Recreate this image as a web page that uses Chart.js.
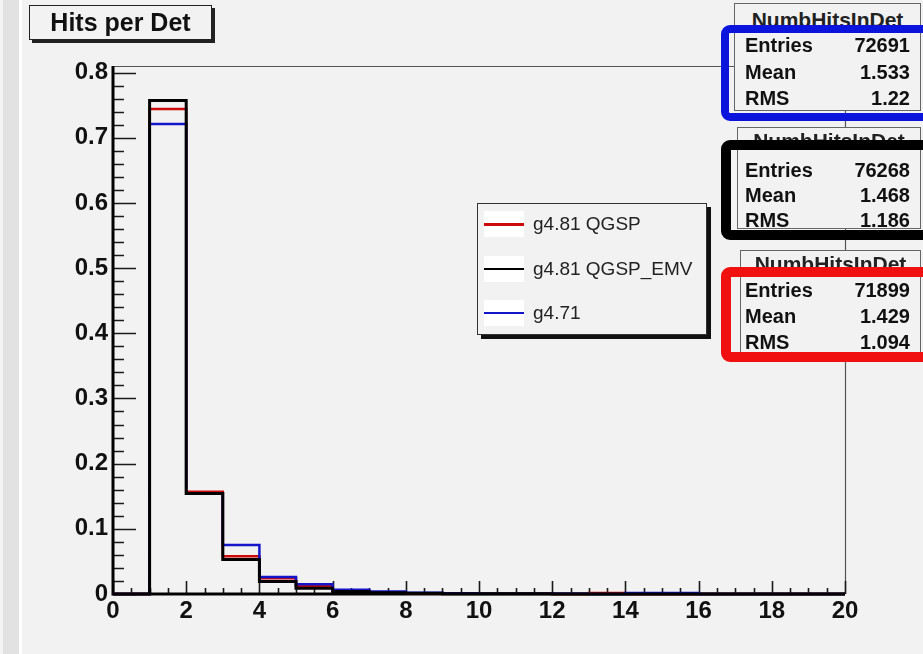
<!DOCTYPE html>
<html>
<head>
<meta charset="utf-8">
<title>Hits per Det</title>
<script src="https://cdn.jsdelivr.net/npm/chart.js@4.4.1/dist/chart.umd.min.js"></script>
<style>
  body { margin: 0; background: #f2f2f2; }
  #wrap {
    position: relative; width: 923px; height: 654px; overflow: hidden;
    background: linear-gradient(to right, #f4f4f4 0 3px, #e2e2e2 3px 19px, #fff 19px 22px, #f2f2f2 22px);
    font-family: "Liberation Sans", Arial, sans-serif; color: #111;
  }
  #c { position: absolute; left: 0; top: 0; }
  .title {
    position: absolute; left: 29px; top: 5px; width: 181px; height: 33px;
    border: 1.5px solid #222; box-shadow: 3px 3px 0 #222; background: #f2f2f2;
    font-weight: bold; font-size: 25px; line-height: 33px; text-align: center;
  }
  .legend {
    position: absolute; left: 477px; top: 203px; width: 228px; height: 130px;
    border: 1px solid #333; box-shadow: 4px 4px 0 #111; background: #f2f2f2;
  }
  .legend .row { position: absolute; left: 0; height: 30px; width: 100%; }
  .legend .sw { position: absolute; left: 6px; top: 2px; width: 40px; height: 26px; background: #fff; }
  .legend .sw i { position: absolute; left: 0; right: 0; top: 12px; display: block; }
  .legend .lab { position: absolute; left: 55px; top: 0; font-size: 19px; line-height: 30px; color: #222; }
  .frame {
    position: absolute; border: 1px solid #666; background: #f2f2f2; box-sizing: border-box;
    font-weight: bold; font-size: 21px; line-height: 20px; text-align: center; overflow: hidden; color: #222;
  }
  .ring { position: absolute; left: 721px; width: 200px; border-style: solid; border-radius: 9px; }
  .st { position: absolute; font-weight: bold; font-size: 20px; line-height: 24px; }
  .st.k { left: 745px; }
  .st.v { right: 13px; text-align: right; }
</style>
</head>
<body>
<div id="wrap">
  <canvas id="c" width="923" height="654"></canvas>
  <div class="title">Hits per Det</div>
  <div class="legend" id="legend"></div>
  <div id="stats"></div>
</div>
<script>
// ===== DATA =====
const binLow = [0, 1, 2, 3, 4, 5, 6, 7, 8, 9, 10, 11, 12, 13, 14, 15, 16, 17, 18, 19];
const xMax = 20;
const xTickValues = [0, 2, 4, 6, 8, 10, 12, 14, 16, 18, 20];
const xTickLabels = ['0', '2', '4', '6', '8', '10', '12', '14', '16', '18', '20'];
const yTickValues = [0, 0.1, 0.2, 0.3, 0.4, 0.5, 0.6, 0.7, 0.8];
const yTickLabels = ['0', '0.1', '0.2', '0.3', '0.4', '0.5', '0.6', '0.7', '0.8'];

const seriesNames = ['g4.81 QGSP', 'g4.81 QGSP_EMV', 'g4.71'];
const qgsp    = [0, 0.744, 0.157, 0.058, 0.024, 0.012, 0.005, 0.002, 0.001, 0.0005, 0.0003, 0.0002, 0.0001, 0.0015, 0, 0, 0, 0, 0, 0];
const qgspEmv = [0, 0.757, 0.154, 0.053, 0.019, 0.009, 0.004, 0.002, 0.001, 0.0005, 0.0003, 0.0002, 0.0001, 0, 0, 0, 0, 0, 0, 0];
const g471    = [0, 0.721, 0.154, 0.075, 0.026, 0.015, 0.0066, 0.004, 0.002, 0.001, 0.0005, 0.0003, 0.0002, 0.0001, 0.0015, 0.0015, 0, 0, 0, 0];

// stats boxes, top to bottom (blue = g4.71, black = QGSP_EMV, red = QGSP)
const statTitle = 'NumbHitsInDet';
const statEntries = ['72691', '76268', '71899'];
const statMean = ['1.533', '1.468', '1.429'];
const statRms = ['1.22', '1.186', '1.094'];

// ===== STYLE =====
const colRed = '#cc0a0a', colBlack = '#000000', colBlue = '#1414c8';

function histPoints(vals) {
  const pts = binLow.map((x, i) => ({ x: x, y: vals[i] }));
  pts.push({ x: xMax, y: vals[vals.length - 1] });
  return pts;
}

// ROOT-like frame: axis lines under the histograms, ticks pointing inwards
const rootAxes = {
  id: 'rootAxes',
  beforeDatasetsDraw(chart) {
    const { ctx, chartArea: a, scales: { x, y } } = chart;
    ctx.save();
    ctx.strokeStyle = '#555'; ctx.lineWidth = 1.2;
    ctx.beginPath();
    ctx.moveTo(a.left, a.top + 0.5);
    ctx.lineTo(a.right + 0.5, a.top + 0.5);
    ctx.lineTo(a.right + 0.5, a.bottom);
    ctx.stroke();

    ctx.strokeStyle = '#1a1a1a'; ctx.lineWidth = 1.6;
    ctx.beginPath();
    for (let i = 0; i <= 40; i++) {
      const px = Math.round(x.getPixelForValue(i * 0.5)) + 0.5;
      const len = i % 4 === 0 ? 13 : 6;
      ctx.moveTo(px, a.bottom); ctx.lineTo(px, a.bottom - len);
    }
    for (let i = 0; i <= 40; i++) {
      const v = i * 0.02;
      if (v > y.max) break;
      const py = Math.round(y.getPixelForValue(v)) + 0.5;
      const len = i % 5 === 0 ? 23 : 11;
      ctx.moveTo(a.left, py); ctx.lineTo(a.left + len, py);
    }
    ctx.stroke();

    ctx.strokeStyle = '#000'; ctx.lineWidth = 3;
    ctx.beginPath();
    ctx.moveTo(a.left, a.top); ctx.lineTo(a.left, a.bottom);
    ctx.lineTo(a.right, a.bottom);
    ctx.stroke();
    ctx.restore();
  }
};

const tickFont = { family: '"Liberation Sans", Arial, sans-serif', size: 24, weight: 'bold' };

new Chart(document.getElementById('c'), {
  type: 'line',
  data: {
    datasets: [
      { label: seriesNames[1], data: histPoints(qgspEmv), borderColor: colBlack, borderWidth: 3, order: 0 },
      { label: seriesNames[2], data: histPoints(g471), borderColor: colBlue, borderWidth: 2.5, order: 1 },
      { label: seriesNames[0], data: histPoints(qgsp), borderColor: colRed, borderWidth: 2.5, order: 2 }
    ].map(d => Object.assign(d, { stepped: 'before', pointRadius: 0, fill: false, clip: 4 }))
  },
  options: {
    responsive: false,
    animation: false,
    layout: { padding: { left: 0, top: 66, right: 78, bottom: 0 } },
    plugins: { legend: { display: false }, tooltip: { enabled: false } },
    scales: {
      x: {
        type: 'linear', min: 0, max: xMax,
        grid: { display: false, drawTicks: false }, border: { display: false },
        afterFit: s => { s.height = 60; },
        afterBuildTicks: s => { s.ticks = xTickValues.map(v => ({ value: v })); },
        ticks: {
          padding: 3, color: '#111', font: tickFont, maxRotation: 0, autoSkip: false,
          callback: (v) => xTickLabels[xTickValues.indexOf(v)]
        }
      },
      y: {
        type: 'linear', min: 0, max: 0.81,
        grid: { display: false, drawTicks: false }, border: { display: false },
        afterFit: s => { s.width = 113; },
        afterBuildTicks: s => { s.ticks = yTickValues.map(v => ({ value: v })); },
        ticks: {
          padding: 5, color: '#111', font: tickFont, autoSkip: false,
          callback: (v) => yTickLabels[yTickValues.indexOf(v)]
        }
      }
    }
  },
  plugins: [rootAxes]
});

// ===== LEGEND =====
const legendCols = [colRed, colBlack, colBlue];
const legendWidths = [3, 1.5, 2];
const legendTops = [5, 50, 94];
document.getElementById('legend').innerHTML = seriesNames.map((n, i) =>
  '<div class="row" style="top:' + legendTops[i] + 'px"><div class="sw"><i style="height:' + legendWidths[i] +
  'px;background:' + legendCols[i] + '"></i></div><div class="lab">' + n + '</div></div>'
).join('');

// ===== STATS BOXES =====
const boxes = [
  { frameTop: 3, frameLeft: 734, frameH: 108, pad: 6, ringTop: 25, ringH: 96, ringW: 8, color: '#0a14dc', rows: [45, 72, 98] },
  { frameTop: 127, frameLeft: 737, frameH: 102, pad: 3, ringTop: 140, ringH: 100, ringW: 10, color: '#000', rows: [170, 195, 220] },
  { frameTop: 250, frameLeft: 740, frameH: 105, pad: 3, ringTop: 267, ringH: 95, ringW: 10, color: '#f01010', rows: [290, 316, 342] }
];
let html = '';
boxes.forEach((b, i) => {
  html += '<div class="frame" style="left:' + b.frameLeft + 'px;top:' + b.frameTop + 'px;height:' + b.frameH +
    'px;width:' + (921 - b.frameLeft) + 'px;padding-top:' + b.pad + 'px">' + statTitle + '</div>';
  html += '<div class="ring" style="top:' + b.ringTop + 'px;height:' + (b.ringH - 2 * b.ringW) + 'px;border-width:' +
    b.ringW + 'px;border-color:' + b.color + '"></div>';
  const keys = ['Entries', 'Mean', 'RMS'];
  const vals = [statEntries[i], statMean[i], statRms[i]];
  keys.forEach((k, j) => {
    const t = b.rows[j] - 12;
    html += '<div class="st k" style="top:' + t + 'px">' + k + '</div>';
    html += '<div class="st v" style="top:' + t + 'px">' + vals[j] + '</div>';
  });
});
document.getElementById('stats').innerHTML = html;
</script>
</body>
</html>
